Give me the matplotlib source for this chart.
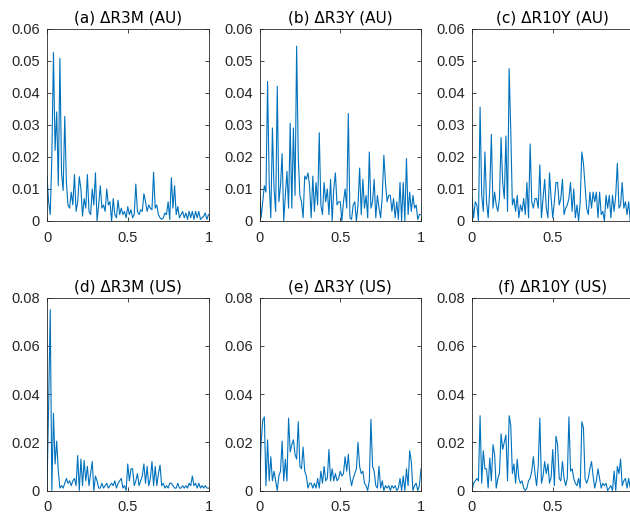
import numpy as np
import matplotlib
matplotlib.use("Agg")
import matplotlib.pyplot as plt

titles = ["(a) ΔR3M (AU)", "(b) ΔR3Y (AU)", "(c) ΔR10Y (AU)",
          "(d) ΔR3M (US)", "(e) ΔR3Y (US)", "(f) ΔR10Y (US)"]

xticks = [0, 0.5, 1]
xticklabels = ["0", "0.5", "1"]
yticks_au = [0, 0.01, 0.02, 0.03, 0.04, 0.05, 0.06]
yticklabels_au = ["0", "0.01", "0.02", "0.03", "0.04", "0.05", "0.06"]
yticks_us = [0, 0.02, 0.04, 0.06, 0.08]
yticklabels_us = ["0", "0.02", "0.04", "0.06", "0.08"]

r3m_au = [0.014, 0.006, 0.002, 0.020, 0.0525, 0.022, 0.034, 0.011, 0.0507, 0.015,
          0.0095, 0.0326, 0.012, 0.005, 0.004, 0.009, 0.005, 0.0145, 0.003, 0.006,
          0.0138, 0.010, 0.0015, 0.007, 0.004, 0.0145, 0.003, 0.002, 0.010, 0.005,
          0.015, 0.000, 0.005, 0.011, 0.004, 0.005, 0.003, 0.010, 0.005, 0.006,
          0.000, 0.007, 0.002, 0.001, 0.0065, 0.002, 0.004, 0.002, 0.003, 0.001,
          0.0045, 0.002, 0.0035, 0.001, 0.002, 0.0115, 0.003, 0.002, 0.0035, 0.003,
          0.0085, 0.006, 0.003, 0.005, 0.004, 0.0035, 0.0152, 0.004, 0.005, 0.002,
          0.001, 0.0005, 0.001, 0.0025, 0.002, 0.006, 0.0005, 0.0135, 0.004, 0.011,
          0.002, 0.0045, 0.001, 0.002, 0.003, 0.001, 0.0025, 0.0005, 0.003, 0.001,
          0.003, 0.0005, 0.003, 0.001, 0.003, 0.0005, 0.001, 0.0015, 0.0025, 0.0005,
          0.002]

r3y_au = [0.010, 0.001, 0.006, 0.011, 0.009, 0.0435, 0.012, 0.001, 0.029, 0.010,
          0.003, 0.042, 0.006, 0.011, 0.021, 0.000, 0.008, 0.0155, 0.004, 0.0305,
          0.004, 0.029, 0.008, 0.0545, 0.020, 0.008, 0.006, 0.001, 0.014, 0.013,
          0.015, 0.011, 0.001, 0.014, 0.003, 0.012, 0.005, 0.0275, 0.005, 0.002,
          0.012, 0.006, 0.010, 0.002, 0.013, 0.000, 0.010, 0.015, 0.005, 0.006,
          0.006, 0.000, 0.006, 0.010, 0.004, 0.0335, 0.001, 0.0005, 0.005, 0.006,
          0.000, 0.005, 0.0165, 0.002, 0.013, 0.004, 0.008, 0.001, 0.0215, 0.004,
          0.006, 0.013, 0.001, 0.008, 0.004, 0.001, 0.0075, 0.0205, 0.012, 0.006,
          0.008, 0.008, 0.003, 0.007, 0.001, 0.006, 0.0005, 0.012, 0.000, 0.012,
          0.000, 0.0195, 0.002, 0.009, 0.003, 0.008, 0.004, 0.005, 0.0005, 0.002,
          0.002]

r10y_au = [0.007, 0.001, 0.006, 0.005, 0.000, 0.0355, 0.008, 0.003, 0.0215, 0.006,
           0.001, 0.010, 0.027, 0.004, 0.009, 0.005, 0.003, 0.007, 0.026, 0.012,
           0.007, 0.0265, 0.003, 0.0475, 0.028, 0.005, 0.007, 0.003, 0.008, 0.001,
           0.005, 0.003, 0.007, 0.002, 0.012, 0.001, 0.024, 0.006, 0.004, 0.007,
           0.007, 0.004, 0.0175, 0.001, 0.007, 0.013, 0.004, 0.001, 0.015, 0.007,
           0.001, 0.006, 0.012, 0.012, 0.005, 0.007, 0.013, 0.002, 0.004, 0.005,
           0.007, 0.012, 0.003, 0.010, 0.001, 0.005, 0.000, 0.006, 0.0215, 0.018,
           0.011, 0.004, 0.002, 0.009, 0.004, 0.009, 0.006, 0.009, 0.001, 0.009,
           0.002, 0.003, 0.000, 0.008, 0.004, 0.008, 0.001, 0.008, 0.003, 0.008,
           0.018, 0.004, 0.005, 0.012, 0.004, 0.006, 0.002, 0.006, 0.000, 0.003,
           0.002]

r3m_us = [0.000, 0.035, 0.075, 0.000, 0.032, 0.011, 0.0205, 0.008, 0.001, 0.002,
          0.001, 0.003, 0.005, 0.003, 0.004, 0.002, 0.004, 0.005, 0.002, 0.0145,
          0.000, 0.013, 0.002, 0.0125, 0.004, 0.010, 0.002, 0.007, 0.012, 0.000,
          0.006, 0.004, 0.001, 0.001, 0.003, 0.001, 0.002, 0.003, 0.001, 0.002,
          0.003, 0.002, 0.004, 0.001, 0.003, 0.004, 0.005, 0.001, 0.002, 0.000,
          0.011, 0.004, 0.009, 0.009, 0.002, 0.004, 0.007, 0.002, 0.004, 0.006,
          0.011, 0.003, 0.010, 0.002, 0.005, 0.012, 0.002, 0.010, 0.002, 0.007,
          0.0105, 0.002, 0.003, 0.001, 0.002, 0.001, 0.003, 0.003, 0.002, 0.001,
          0.001, 0.003, 0.001, 0.001, 0.002, 0.001, 0.002, 0.001, 0.003, 0.002,
          0.006, 0.002, 0.003, 0.001, 0.003, 0.001, 0.002, 0.001, 0.002, 0.001,
          0.001]

r3y_us = [0.000, 0.020, 0.029, 0.0305, 0.002, 0.021, 0.004, 0.014, 0.004, 0.008,
          0.004, 0.000, 0.006, 0.008, 0.0205, 0.004, 0.013, 0.004, 0.030, 0.016,
          0.019, 0.021, 0.015, 0.013, 0.0285, 0.010, 0.009, 0.018, 0.008, 0.006,
          0.001, 0.003, 0.003, 0.001, 0.003, 0.001, 0.005, 0.001, 0.008, 0.003,
          0.010, 0.004, 0.005, 0.017, 0.004, 0.009, 0.004, 0.007, 0.004, 0.005,
          0.008, 0.006, 0.007, 0.014, 0.008, 0.015, 0.006, 0.002, 0.005, 0.007,
          0.009, 0.020, 0.010, 0.007, 0.008, 0.003, 0.002, 0.000, 0.004, 0.0295,
          0.010, 0.008, 0.002, 0.001, 0.010, 0.001, 0.004, 0.000, 0.002, 0.001,
          0.002, 0.000, 0.002, 0.001, 0.002, 0.000, 0.001, 0.005, 0.000, 0.006,
          0.000, 0.009, 0.002, 0.0165, 0.012, 0.000, 0.002, 0.003, 0.000, 0.002,
          0.009]

r10y_us = [0.000, 0.003, 0.004, 0.005, 0.004, 0.031, 0.003, 0.0165, 0.009, 0.009,
           0.001, 0.0135, 0.004, 0.019, 0.015, 0.001, 0.005, 0.007, 0.0235, 0.017,
           0.020, 0.023, 0.004, 0.031, 0.027, 0.007, 0.011, 0.003, 0.013, 0.005,
           0.003, 0.004, 0.001, 0.000, 0.001, 0.004, 0.005, 0.008, 0.014, 0.007,
           0.002, 0.010, 0.030, 0.003, 0.006, 0.012, 0.007, 0.011, 0.003, 0.0055,
           0.017, 0.002, 0.0225, 0.019, 0.005, 0.004, 0.012, 0.005, 0.002, 0.005,
           0.0305, 0.008, 0.009, 0.005, 0.003, 0.002, 0.005, 0.001, 0.0285, 0.026,
           0.005, 0.003, 0.005, 0.009, 0.012, 0.006, 0.001, 0.004, 0.009, 0.005,
           0.001, 0.003, 0.002, 0.003, 0.000, 0.001, 0.002, 0.000, 0.008, 0.000,
           0.010, 0.007, 0.013, 0.002, 0.004, 0.005, 0.001, 0.005, 0.001, 0.002,
           0.001]

series = [r3m_au, r3y_au, r10y_au, r3m_us, r3y_us, r10y_us]

W, H = 630, 517
fig = plt.figure(figsize=(W / 100, H / 100), dpi=100)

lefts = [47, 259.5, 472]
axw = 161.5
rows = [(28.5, 221), (297.5, 490.5)]

line_color = "#0072BD"
axis_color = "#262626"
tick_font = "Liberation Sans"
title_fonts = ["DejaVu Sans"]

for idx, y in enumerate(series):
    r, c = divmod(idx, 3)
    top, bot = rows[r]
    ax = fig.add_axes([lefts[c] / W, 1 - bot / H, axw / W, (bot - top) / H])
    x = np.linspace(0, 1, len(y))
    ax.plot(x, y, color=line_color, lw=0.8)
    ax.set_xlim(0, 1)
    if r == 0:
        ax.set_ylim(0, 0.06)
        ax.set_yticks(yticks_au)
        ax.set_yticklabels(yticklabels_au)
    else:
        ax.set_ylim(0, 0.08)
        ax.set_yticks(yticks_us)
        ax.set_yticklabels(yticklabels_us)
    ax.set_xticks(xticks)
    ax.set_xticklabels(xticklabels)
    ax.tick_params(direction="in", length=3, width=0.6, colors=axis_color,
                   top=True, right=True, labelsize=10.5)
    ax.tick_params(axis="y", pad=5)
    ax.tick_params(axis="x", pad=7)
    for lab in ax.get_xticklabels() + ax.get_yticklabels():
        lab.set_fontfamily(tick_font)
        lab.set_color(axis_color)
    for sp in ax.spines.values():
        sp.set_color(axis_color)
        sp.set_linewidth(0.6)
    ax.set_title(titles[idx], fontsize=11, family=title_fonts,
                 color="black", pad=4)

fig.savefig("out.png", dpi=100)
